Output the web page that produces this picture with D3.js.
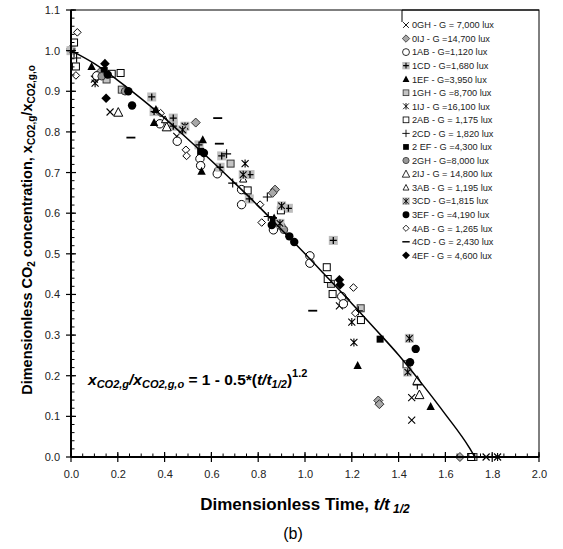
<!DOCTYPE html>
<html><head><meta charset="utf-8">
<script src="https://cdn.jsdelivr.net/npm/d3@7"></script>
<style>body{margin:0;background:#fff}svg{display:block;font-family:Arial,"Liberation Sans",sans-serif}</style>
</head><body><svg id="c" width="563" height="549"></svg>
<script>
// ---------- DATA ----------
const seriesNames = ["0GH","0IJ","1AB","1CD","1EF","1GH","1IJ","2AB","2CD","2EF","2GH","2IJ","3AB","3CD","3EF","4AB","4CD","4EF"];
const legendLabels = ["0GH - G = 7,000 lux","0IJ - G =14,700 lux","1AB - G=1,120 lux","1CD - G=1,680 lux","1EF - G=3,950 lux","1GH - G =8,700 lux","1IJ - G =16,100 lux","2AB - G = 1,175 lux","2CD - G = 1,820 lux","2 EF - G =4,300 lux","2GH - G=8,000 lux","2IJ - G = 14,800 lux","3AB - G = 1,195 lux","3CD - G=1,815 lux","3EF - G =4,190 lux","4AB - G = 1,265 lux","4CD - G = 2,430 lux","4EF - G = 4,600 lux"];
const s0GH = [[0.10,0.93],[0.167,0.849],[0.452,0.789],[1.147,0.372],[1.456,0.146],[1.456,0.091],[1.774,0.0]];
const s0IJ = [[0.0,1.004],[0.124,0.947],[0.533,0.823],[0.872,0.658],[0.862,0.65],[1.172,0.387],[1.313,0.139],[1.318,0.13],[1.662,0.0]];
const s1AB = [[0.11,0.938],[0.38,0.82],[0.454,0.777],[0.551,0.734],[0.554,0.717],[0.63,0.704],[0.625,0.697],[0.729,0.658],[0.729,0.621],[0.865,0.559],[1.021,0.495],[1.021,0.477],[1.157,0.395],[1.164,0.377]];
const s1CD = [[0.0,1.0],[0.345,0.886],[0.355,0.85],[0.437,0.834],[0.437,0.814],[0.547,0.768],[0.644,0.741],[0.637,0.713],[0.765,0.695],[0.762,0.635],[0.929,0.612],[1.121,0.533]];
const s1EF = [[0.088,0.961],[0.355,0.823],[0.363,0.855],[0.563,0.781],[0.558,0.703],[0.868,0.588],[1.225,0.225],[1.537,0.124]];
const s1GH = [[0.152,0.929],[0.217,0.904],[0.682,0.722],[1.111,0.426],[1.238,0.366],[1.72,0.0]];
const s1IJ = [[0.103,0.92],[0.744,0.722],[1.2,0.332],[1.209,0.282],[1.823,0.0]];
const s2AB = [[0.013,1.02],[0.021,0.961],[0.174,0.943],[0.212,0.945],[0.755,0.656],[0.897,0.607],[1.093,0.467],[1.097,0.438],[1.118,0.401],[1.239,0.337],[1.434,0.228],[1.71,0.0]];
const s2CD = [[0.024,0.982],[0.013,0.995],[0.665,0.746],[0.691,0.674],[0.839,0.64],[0.843,0.592],[1.228,0.36],[1.48,0.177]];
const s2EF = [[0.142,0.951],[0.554,0.752],[0.865,0.582],[1.321,0.29]];
const s2GH = [[0.131,0.937],[0.231,0.9],[0.9,0.567],[0.91,0.559]];
const s2IJ = [[0.202,0.848],[0.409,0.812],[1.48,0.188],[1.489,0.153]];
const s3AB = [[0.402,0.83],[0.736,0.684]];
const s3CD = [[0.487,0.814],[0.477,0.805],[0.736,0.695],[0.9,0.618],[0.893,0.575],[1.446,0.292],[1.439,0.209]];
const s3EF = [[0.157,0.941],[0.245,0.9],[0.261,0.865],[0.568,0.748],[0.858,0.571],[0.933,0.543],[0.954,0.529],[1.473,0.266],[1.449,0.233]];
const s4AB = [[0.027,1.045],[0.021,0.939],[0.383,0.846],[0.491,0.756],[0.494,0.741],[0.808,0.621],[0.815,0.577],[1.207,0.417],[1.215,0.354]];
const s4CD = [[0.256,0.786],[0.627,0.834],[0.634,0.771],[1.033,0.36]];
const s4EF = [[0.145,0.968],[0.15,0.883],[1.147,0.436],[1.15,0.424]];
// model curve
const curveX = [0,0.1,0.2,0.3,0.4,0.5,0.6,0.7,0.8,0.9,1.0,1.1,1.2,1.3,1.4,1.5,1.6,1.7,1.726];
const curveY = [1.0,0.968,0.927,0.882,0.834,0.782,0.729,0.674,0.618,0.559,0.5,0.439,0.378,0.315,0.251,0.18,0.105,0.025,0.0];
const xTickLabels = [0,0.2,0.4,0.6,0.8,1.0,1.2,1.4,1.6,1.8,2.0];
const yTickLabels = [0,0.1,0.2,0.3,0.4,0.5,0.6,0.7,0.8,0.9,1.0,1.1];

const seriesData = [s0GH,s0IJ,s1AB,s1CD,s1EF,s1GH,s1IJ,s2AB,s2CD,s2EF,s2GH,s2IJ,s3AB,s3CD,s3EF,s4AB,s4CD,s4EF];

// ---------- STYLES ----------
const markerType = {"0GH":"x","0IJ":"diamondGrey","1AB":"circleOpen","1CD":"plusGrey","1EF":"triFilled","1GH":"squareGrey","1IJ":"star","2AB":"squareOpen","2CD":"plus","2EF":"squareFilled","2GH":"circleGrey","2IJ":"triOpen","3AB":"triOpenSmall","3CD":"starGrey","3EF":"circleFilled","4AB":"diamondOpen","4CD":"dash","4EF":"diamondFilled"};

const svg = d3.select("#c");
const L=71, R=539, T=10, B=457;
const x = d3.scaleLinear().domain([0,2]).range([L,R]);
const y = d3.scaleLinear().domain([0,1.1]).range([B,T]);

function marker(g, type){
  const k="#000";
  switch(type){
    case "x": g.append("path").attr("d","M-3.5,-3.5L3.5,3.5M-3.5,3.5L3.5,-3.5").attr("stroke",k).attr("stroke-width",1.1).attr("fill","none");break;
    case "diamondGrey": g.append("path").attr("d","M0,-4.5L4.5,0L0,4.5L-4.5,0Z").attr("fill","#a8a8a8").attr("stroke","#333").attr("stroke-width",1);break;
    case "circleOpen": g.append("circle").attr("r",4.2).attr("fill","#fff").attr("stroke",k).attr("stroke-width",1);break;
    case "plusGrey": g.append("rect").attr("x",-4.5).attr("y",-4.5).attr("width",9).attr("height",9).attr("fill","#bdbdbd");
      g.append("path").attr("d","M-3.5,0L3.5,0M0,-3.5L0,3.5").attr("stroke",k).attr("stroke-width",1.3);break;
    case "triFilled": g.append("path").attr("d","M0,-4.5L4.2,3.5L-4.2,3.5Z").attr("fill",k);break;
    case "squareGrey": g.append("rect").attr("x",-3.5).attr("y",-3.5).attr("width",7).attr("height",7).attr("fill","#c4c4c4").attr("stroke","#333").attr("stroke-width",1);break;
    case "star": g.append("path").attr("d","M-3.5,-3.5L3.5,3.5M-3.5,3.5L3.5,-3.5M0,-4L0,4").attr("stroke",k).attr("stroke-width",1.1).attr("fill","none");break;
    case "starGrey": g.append("rect").attr("x",-4.5).attr("y",-4.5).attr("width",9).attr("height",9).attr("fill","#bdbdbd");
      g.append("path").attr("d","M-3.3,-3.3L3.3,3.3M-3.3,3.3L3.3,-3.3M0,-3.8L0,3.8").attr("stroke",k).attr("stroke-width",1.1).attr("fill","none");break;
    case "squareOpen": g.append("rect").attr("x",-3.5).attr("y",-3.5).attr("width",7).attr("height",7).attr("fill","#fff").attr("stroke",k).attr("stroke-width",1);break;
    case "plus": g.append("path").attr("d","M-4.5,0L4.5,0M0,-4.5L0,4.5").attr("stroke",k).attr("stroke-width",1.1);break;
    case "squareFilled": g.append("rect").attr("x",-3.5).attr("y",-3.5).attr("width",7).attr("height",7).attr("fill",k);break;
    case "circleGrey": g.append("circle").attr("r",3.8).attr("fill","#999").attr("stroke","#333").attr("stroke-width",1);break;
    case "triOpen": g.append("path").attr("d","M0,-4.8L4.5,3.8L-4.5,3.8Z").attr("fill","#fff").attr("stroke",k).attr("stroke-width",1);break;
    case "triOpenSmall": g.append("path").attr("d","M0,-3.8L3.6,3L-3.6,3Z").attr("fill","#fff").attr("stroke",k).attr("stroke-width",1);break;
    case "circleFilled": g.append("circle").attr("r",4.2).attr("fill",k);break;
    case "diamondOpen": g.append("path").attr("d","M0,-3.8L3.8,0L0,3.8L-3.8,0Z").attr("fill","#fff").attr("stroke",k).attr("stroke-width",1);break;
    case "dash": g.append("path").attr("d","M-4.5,0L4.5,0").attr("stroke",k).attr("stroke-width",1.8);break;
    case "diamondFilled": g.append("path").attr("d","M0,-4.8L4.8,0L0,4.8L-4.8,0Z").attr("fill",k);break;
  }
}

// frame
svg.append("rect").attr("x",L).attr("y",T).attr("width",R-L).attr("height",B-T).attr("fill","none").attr("stroke","#000").attr("stroke-width",1);

// points
const pts = svg.append("g");
seriesNames.forEach((n,i)=>{
  seriesData[i].forEach(d=>{
    const g = pts.append("g").attr("transform",`translate(${x(d[0])},${y(d[1])})`);
    marker(g, markerType[n]);
  });
});

// curve
const curvePts = curveX.map((v,i)=>[v,curveY[i]]);
svg.append("path").datum(curvePts)
  .attr("d", d3.line().x(d=>x(d[0])).y(d=>y(d[1])).curve(d3.curveMonotoneX))
  .attr("fill","none").attr("stroke","#000").attr("stroke-width",1.5);

// axes lines (thick)
svg.append("line").attr("x1",L).attr("x2",L).attr("y1",T).attr("y2",B).attr("stroke","#000").attr("stroke-width",2);
svg.append("line").attr("x1",L).attr("x2",R).attr("y1",B).attr("y2",B).attr("stroke","#000").attr("stroke-width",2);

// ticks
const yMinor = d3.range(0,1.1001,0.02);
yMinor.forEach(v=>svg.append("line").attr("x1",L).attr("x2",L+3.5).attr("y1",y(v)).attr("y2",y(v)).attr("stroke","#000").attr("stroke-width",1));
yTickLabels.forEach(v=>svg.append("line").attr("x1",L-5).attr("x2",L+5).attr("y1",y(v)).attr("y2",y(v)).attr("stroke","#000").attr("stroke-width",1.2));
const xMinor = d3.range(0,2.0001,0.05);
xMinor.forEach(v=>svg.append("line").attr("x1",x(v)).attr("x2",x(v)).attr("y1",B).attr("y2",B-3.5).attr("stroke","#000").attr("stroke-width",1));
xTickLabels.forEach(v=>svg.append("line").attr("x1",x(v)).attr("x2",x(v)).attr("y1",B-5).attr("y2",B+5).attr("stroke","#000").attr("stroke-width",1.2));

// tick labels via d3 axes
const ax = svg.append("g").attr("transform",`translate(0,${B})`)
  .call(d3.axisBottom(x).tickValues(xTickLabels).tickFormat(d3.format(".1f")).tickSize(0).tickPadding(13));
ax.select(".domain").remove();
ax.selectAll("text").attr("font-size",11).attr("fill","#222").attr("font-family","Arial, 'Liberation Sans', sans-serif");
const ay = svg.append("g").attr("transform",`translate(${L},0)`)
  .call(d3.axisLeft(y).tickValues(yTickLabels).tickFormat(d3.format(".1f")).tickSize(0).tickPadding(11));
ay.select(".domain").remove();
ay.selectAll("text").attr("font-size",11).attr("fill","#222").attr("font-family","Arial, 'Liberation Sans', sans-serif");

// legend
svg.append("path").attr("d",`M${402},${T+12}L402,${T}L${R},${T}`).attr("fill","none").attr("stroke","#000").attr("stroke-width",1);
const lg = svg.append("g");
seriesNames.forEach((n,i)=>{
  const yy = 25 + i*13.55;
  const g = lg.append("g").attr("transform",`translate(406,${yy}) scale(0.82)`);
  marker(g, markerType[n]);
  lg.append("text").attr("x",412).attr("y",yy+3.3).attr("font-size",9.2).attr("fill","#222").text(legendLabels[i]);
});

// equation
const eq = svg.append("text").attr("x",88).attr("y",385).attr("font-size",15.5).attr("font-weight","bold");
eq.append("tspan").attr("font-style","italic").text("x");
eq.append("tspan").attr("font-style","italic").attr("font-size",11).attr("dy",3).text("CO2,g");
eq.append("tspan").attr("dy",-3).attr("font-style","italic").text("/x");
eq.append("tspan").attr("font-style","italic").attr("font-size",11).attr("dy",3).text("CO2,g,o");
eq.append("tspan").attr("dy",-3).text(" = 1 - 0.5*(");
eq.append("tspan").attr("font-style","italic").text("t/t");
eq.append("tspan").attr("font-style","italic").attr("font-size",11).attr("dy",3).text("1/2");
eq.append("tspan").attr("dy",-3).text(")");
eq.append("tspan").attr("font-size",11).attr("dy",-8).text("1.2");

// x title
const xt = svg.append("text").attr("x",305).attr("y",510).attr("text-anchor","middle").attr("font-size",17).attr("font-weight","bold");
xt.append("tspan").text("Dimensionless Time, ");
xt.append("tspan").attr("font-style","italic").text("t/t");
xt.append("tspan").attr("font-style","italic").attr("font-size",12).attr("dy",3).text(" 1/2");
svg.append("text").attr("x",293).attr("y",539).attr("text-anchor","middle").attr("font-size",16).text("(b)");

// y title
const yt = svg.append("text").attr("transform","translate(32,230) rotate(-90)").attr("text-anchor","middle").attr("font-size",14.5).attr("font-weight","bold");
yt.append("tspan").text("Dimensionless CO");
yt.append("tspan").attr("font-size",10).attr("dy",3).text("2");
yt.append("tspan").attr("dy",-3).text(" concentration, x");
yt.append("tspan").attr("font-size",10).attr("dy",3).text("CO2,g");
yt.append("tspan").attr("dy",-3).text("/x");
yt.append("tspan").attr("font-size",10).attr("dy",3).text("CO2,g,o");
</script></body></html>
